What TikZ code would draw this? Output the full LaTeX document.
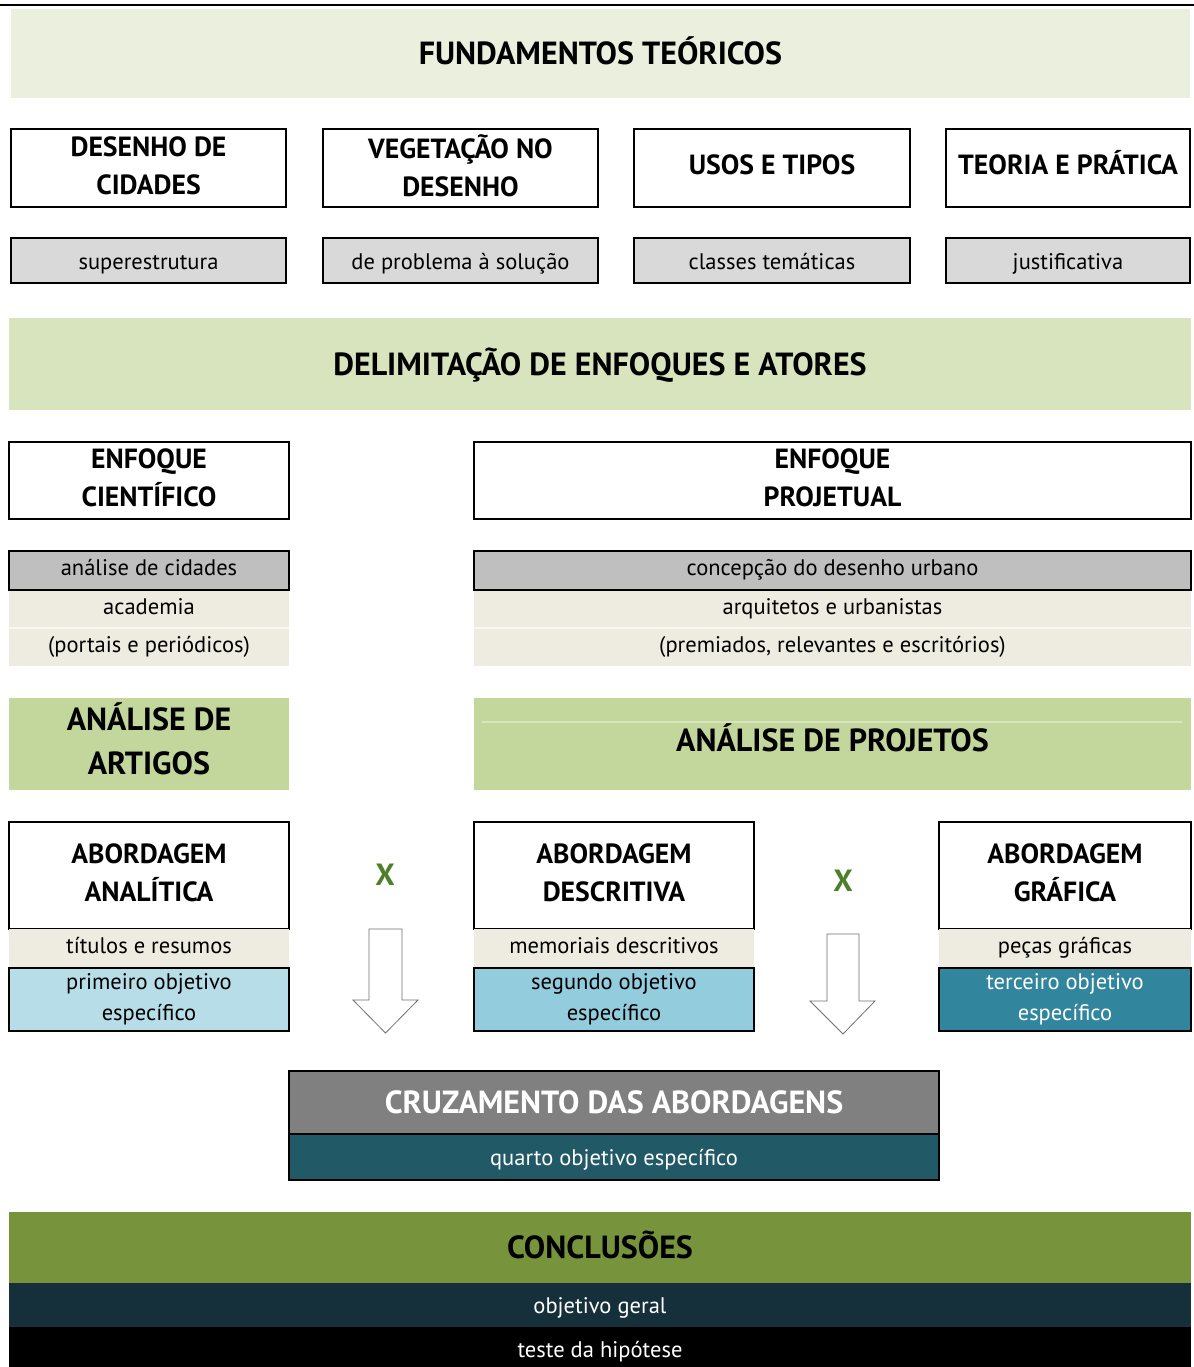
\documentclass[tikz,border=0pt]{standalone}
\usepackage{fontspec}
\setmainfont{PT Sans}
\begin{document}
\begin{tikzpicture}[x=0.75pt,y=-0.75pt,
  base/.style={inner sep=0pt, outer sep=0pt, align=center, line width=1.3pt},
  oneA/.style={text height=20pt, text depth=3pt},
  oneA2/.style={text height=16.8pt, text depth=5pt},
  oneB/.style={text height=11.8pt, text depth=3.6pt},
  oneC/.style={text height=14.6pt, text depth=4.3pt},
  oneD/.style={text height=16.4pt, text depth=3pt},
  oneG/.style={text height=17pt, text depth=2.8pt},
  two/.style={text depth=4pt},
  band/.style={base, draw=none},
  whitebox/.style={base, draw=black, fill=white, font=\fontsize{20.8}{28.5}\selectfont\bfseries},
  graybox/.style={base, oneB, draw=black, fill=lightgray, font=\fontsize{16.9}{23}\selectfont},
  beige/.style={base, oneB, draw=none, fill=beigec, font=\fontsize{16.9}{23}\selectfont},
  bighead/.style={oneA, font=\fontsize{24}{33}\selectfont\bfseries},
  objbox/.style={base, draw=black, font=\fontsize{16.9}{23.2}\selectfont},
  xmark/.style={text=xgreen, font=\fontsize{23}{23}\selectfont\bfseries},
  hollow/.style={draw=arrowgray, line width=0.6pt, fill=white}
]
\definecolor{band1}{HTML}{EBF0DE}
\definecolor{band2}{HTML}{D7E4BD}
\definecolor{band3}{HTML}{C3D69B}
\definecolor{lightgray}{HTML}{D9D9D9}
\definecolor{midgray}{HTML}{BFBFBF}
\definecolor{beigec}{HTML}{EEECE1}
\definecolor{obj1}{HTML}{B7DEE8}
\definecolor{obj2}{HTML}{93CDDD}
\definecolor{obj3}{HTML}{31859C}
\definecolor{cruz}{HTML}{808080}
\definecolor{quarto}{HTML}{215967}
\definecolor{concl}{HTML}{77933C}
\definecolor{geral}{HTML}{15303A}
\definecolor{xgreen}{HTML}{4F7F2A}
\definecolor{arrowgray}{HTML}{707070}

\newcommand\bx[7]{\node[#6, minimum width={(#4-#2)*0.75pt}, minimum height={(#5-#3)*0.75pt}] (#1) at ({(#2+#4)/2},{(#3+#5)/2}) {#7};}

\useasboundingbox (0,0) rectangle (1194,1367);
\fill[white] (0,0) rectangle (1194,1367);

% top rule
\draw[line width=1.8pt] (0,5) -- (1194,5);

% Fundamentos
\bx{fund}{11}{9}{1190}{98}{band, fill=band1, bighead}{FUNDAMENTOS TEÓRICOS}

\bx{t1}{11}{129}{286}{207}{whitebox, two}{DESENHO DE\\CIDADES}
\bx{t2}{323}{129}{598}{207}{whitebox, two}{VEGETAÇÃO NO\\DESENHO}
\bx{t3}{634}{129}{910}{207}{whitebox, oneC}{USOS E TIPOS}
\bx{t4}{946}{129}{1190}{207}{whitebox, oneC}{TEORIA E PRÁTICA}

\bx{g1}{11}{238}{286}{283}{graybox, oneG}{superestrutura}
\bx{g2}{323}{238}{598}{283}{graybox, oneG}{de problema à solução}
\bx{g3}{634}{238}{910}{283}{graybox, oneG}{classes temáticas}
\bx{g4}{946}{238}{1190}{283}{graybox, oneG}{justificativa}

% Delimitação
\bx{delim}{9}{318}{1191}{410}{band, fill=band2, bighead}{DELIMITAÇÃO DE ENFOQUES E ATORES}

\bx{ecient}{9}{442}{289}{519}{whitebox, two}{ENFOQUE\\CIENTÍFICO}
\bx{eproj}{474}{442}{1191}{519}{whitebox, two}{ENFOQUE\\PROJETUAL}

\bx{acad0}{9}{590}{289}{628}{beige}{academia}
\bx{acad1}{9}{628}{289}{666}{beige}{(portais e periódicos)}
\bx{arq0}{474}{590}{1191}{628}{beige}{arquitetos e urbanistas}
\bx{arq1}{474}{628}{1191}{666}{beige}{(premiados, relevantes e escritórios)}
\draw[white!60!beigec, line width=0.8pt] (acad1.north west) -- (acad1.north east);
\draw[white!60!beigec, line width=0.8pt] (arq1.north west) -- (arq1.north east);
\bx{anc}{9}{551}{289}{590}{graybox, fill=midgray}{análise de cidades}
\bx{conc}{474}{551}{1191}{590}{graybox, fill=midgray}{concepção do desenho urbano}

% Análises
\bx{aart}{9}{698}{289}{790}{band, fill=band3, text depth=8pt, font=\fontsize{24}{33}\selectfont\bfseries}{ANÁLISE DE\\ARTIGOS}
\bx{aproj}{474}{698}{1191}{790}{band, fill=band3, bighead, oneA2}{ANÁLISE DE PROJETOS}
\draw[white!35!band3, line width=0.8pt] (482,722) -- (1182,722);

% Abordagens
\bx{ab1}{9}{822}{289}{929}{whitebox, two}{ABORDAGEM\\ANALÍTICA}
\bx{ab2}{474}{822}{754}{929}{whitebox, two}{ABORDAGEM\\DESCRITIVA}
\bx{ab3}{939}{822}{1191}{929}{whitebox, two}{ABORDAGEM\\GRÁFICA}

\bx{b1}{9}{929}{289}{968}{beige}{títulos e resumos}
\bx{b2}{474}{929}{754}{968}{beige}{memoriais descritivos}
\bx{b3}{939}{929}{1191}{968}{beige}{peças gráficas}

\bx{o1}{9}{968}{289}{1031}{objbox, fill=obj1}{primeiro objetivo\\específico}
\bx{o2}{474}{968}{754}{1031}{objbox, fill=obj2}{segundo objetivo\\específico}
\bx{o3}{939}{968}{1191}{1031}{objbox, fill=obj3, text=white}{terceiro objetivo\\específico}

\node[xmark] (x1) at (385,875) {X};
\node[xmark] (x2) at (843,881) {X};

% hollow arrows
\draw[hollow] (369,929) -- (402,929) -- (402,1000) -- (418,1000) -- (385.5,1033) -- (353,1000) -- (369,1000) -- cycle;
\draw[hollow] (827,934) -- (859,934) -- (859,1001) -- (875,1001) -- (843,1034) -- (810,1001) -- (827,1001) -- cycle;

% Cruzamento
\bx{cruz}{289}{1071}{939}{1134}{objbox, oneA, fill=cruz, text=white, font=\fontsize{24}{28}\selectfont\bfseries}{CRUZAMENTO DAS ABORDAGENS}
\bx{quarto}{289}{1134}{939}{1180}{objbox, oneD, fill=quarto, text=white}{quarto objetivo específico}

% Conclusões
\bx{concl}{9}{1212}{1191}{1283}{band, fill=concl, bighead}{CONCLUSÕES}
\bx{geral}{9}{1283}{1191}{1327}{band, oneD, fill=geral, text=white, font=\fontsize{16.9}{20}\selectfont}{objetivo geral}
\bx{hip}{9}{1327}{1191}{1367}{band, text height=18.7pt, text depth=3pt, fill=black, text=white, font=\fontsize{16.9}{20}\selectfont}{teste da hipótese}
\end{tikzpicture}
\end{document}
